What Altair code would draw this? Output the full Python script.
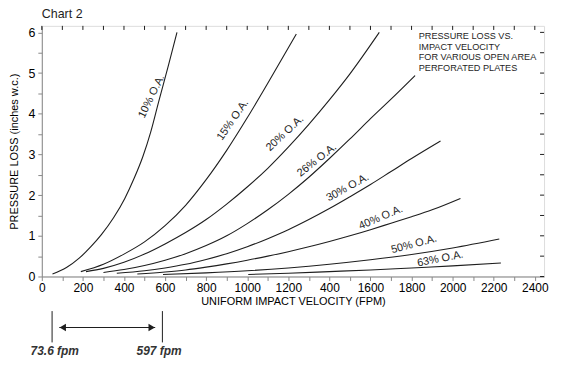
import json
import altair as alt
import pandas as pd

FONT = "Liberation Sans"
INK = "#1e1e1e"

# ---- curve data (velocity fpm, pressure loss in. w.c.) ----
series = ["10%", "15%", "20%", "26%", "30%", "40%", "50%", "63%"]
v10 = [52, 120, 182, 240, 290, 350, 404, 450, 492, 530, 569, 617, 658]
p10 = [0.06, 0.22, 0.45, 0.74, 1.03, 1.45, 1.92, 2.42, 2.95, 3.55, 4.3, 5.2, 6.0]
v15 = [190, 300, 400, 500, 600, 700, 800, 900, 1000, 1100, 1239]
p15 = [0.12, 0.3, 0.55, 0.85, 1.25, 1.75, 2.38, 3.1, 3.9, 4.75, 5.96]
v20 = [215, 300, 400, 500, 600, 700, 800, 900, 1000, 1100, 1200, 1300, 1400, 1500, 1643]
p20 = [0.12, 0.2, 0.35, 0.55, 0.8, 1.08, 1.4, 1.78, 2.2, 2.66, 3.18, 3.74, 4.34, 4.98, 6.0]
v26 = [300, 400, 500, 600, 700, 800, 900, 1000, 1100, 1200, 1300, 1400, 1500, 1600, 1700, 1817]
p26 = [0.1, 0.17, 0.27, 0.4, 0.56, 0.76, 1.0, 1.3, 1.64, 2.02, 2.44, 2.9, 3.38, 3.88, 4.36, 4.94]
v30 = [365, 500, 600, 700, 800, 900, 1000, 1100, 1200, 1300, 1400, 1500, 1600, 1700, 1800, 1941]
p30 = [0.08, 0.14, 0.21, 0.3, 0.42, 0.56, 0.73, 0.93, 1.15, 1.4, 1.67, 1.96, 2.26, 2.58, 2.9, 3.33]
v40 = [465, 600, 700, 800, 900, 1000, 1100, 1200, 1300, 1400, 1500, 1600, 1700, 1800, 1900, 2038]
p40 = [0.06, 0.11, 0.16, 0.23, 0.31, 0.4, 0.5, 0.61, 0.73, 0.86, 1.0, 1.15, 1.31, 1.47, 1.64, 1.92]
v50 = [590, 800, 1000, 1200, 1400, 1600, 1800, 2000, 2227]
p50 = [0.05, 0.09, 0.14, 0.21, 0.3, 0.41, 0.54, 0.7, 0.92]
v63 = [1005, 1200, 1400, 1600, 1800, 2000, 2235]
p63 = [0.05, 0.08, 0.12, 0.16, 0.21, 0.26, 0.33]

# ---- curve labels ----
label_text = ["10% O.A.", "15% O.A.", "20% O.A.", "26% O.A.", "30% O.A.", "40% O.A.", "50% O.A.", "63% O.A."]
label_v = [546, 940, 1192, 1347, 1495, 1655, 1815, 1942]
label_p = [4.40, 3.81, 3.47, 2.81, 2.13, 1.39, 0.73, 0.37]
label_angle = [296, 305, 317, 322, 331, 337, 345, 349]

# ---- axis tick labels ----
x_tick_labels = ["0", "200", "400", "600", "800", "1000", "1200", "400",
                 "1600", "1800", "2000", "2200", "2400"]
x_ticks = list(range(0, 2401, 100))
y_ticks = [i * 0.5 for i in range(13)]

# ---- scale extents ----
x_max = 2445
y_max = 6.16

# ---- texts ----
chart_title = "Chart 2"
title_pos = [0, 6.36]
note_lines = ["PRESSURE LOSS VS.", "IMPACT VELOCITY", "FOR VARIOUS OPEN AREA", "PERFORATED PLATES"]
note_pos = [1835, 6.0]

# ---- range annotation under the axis ----
marker_v = [50, 587]
marker_p = [-0.85, -1.62]
marker_labels = ["73.6 fpm", "597 fpm"]
marker_label_v = [63, 571]
marker_label_p = -1.83
arrow_v = [85, 552]
arrow_p = -1.254
arrow_head_v = [102, 535]

curves = []
for name, vs, ps in zip(series, [v10, v15, v20, v26, v30, v40, v50, v63],
                        [p10, p15, p20, p26, p30, p40, p50, p63]):
    for a, b in zip(vs, ps):
        curves.append({"series": name, "v": a, "p": b})
curves = pd.DataFrame(curves)

labels = pd.DataFrame({"text": label_text, "v": label_v, "p": label_p, "angle": label_angle})

xs = alt.Scale(domain=[0, x_max], nice=False, zero=False)
ys = alt.Scale(domain=[0, y_max], nice=False, zero=False)

label_expr = ("datum.value % 200 == 0 ? " + json.dumps(x_tick_labels) +
              "[round(datum.value / 200)] : ''")

x_axis = alt.Axis(values=x_ticks, labelExpr=label_expr, title="UNIFORM IMPACT VELOCITY (FPM)",
                  tickSize=4, labelPadding=2, labelOverlap=False, labelFlush=False,
                  grid=False, titleY=25, titleBaseline="middle", titleFontWeight="normal",
                  titleFontSize=11, labelFontSize=12)
y_axis = alt.Axis(values=y_ticks, labelExpr="datum.value % 1 == 0 ? format(datum.value, 'd') : ''",
                  title="PRESSURE LOSS (inches w.c.)", tickSize=4, labelPadding=3,
                  labelOverlap=False, grid=False, titleX=-27, titleY=126, titleAngle=270,
                  titleAlign="center", titleBaseline="middle", titleFontWeight="normal",
                  titleFontSize=11, labelFontSize=12.5)


def X(field="v"):
    return alt.X(f"{field}:Q", scale=xs, axis=x_axis)


def Y(field="p"):
    return alt.Y(f"{field}:Q", scale=ys, axis=y_axis)


lines = alt.Chart(curves).mark_line(interpolate="monotone", strokeWidth=1.1, color=INK).encode(
    x=X(), y=Y(), detail="series:N")

curve_labels = alt.Chart(labels).mark_text(font=FONT, fontSize=11, color=INK, dy=-2.5).encode(
    x=X(), y=Y(), text="text:N", angle=alt.Angle("angle:Q", scale=None))

note = alt.Chart(pd.DataFrame({"v": [note_pos[0]], "p": [note_pos[1]], "t": ["\n".join(note_lines)]})).mark_text(
    font=FONT, fontSize=9.2, align="left", baseline="top", lineBreak="\n", lineHeight=10.6, color=INK
).encode(x=X(), y=Y(), text="t:N")

title = alt.Chart(pd.DataFrame({"v": [title_pos[0]], "p": [title_pos[1]], "t": [chart_title]})).mark_text(
    font=FONT, fontSize=12.5, align="left", baseline="alphabetic", color=INK
).encode(x=X(), y=Y(), text="t:N")

top_ticks = alt.Chart(pd.DataFrame({"v": x_ticks, "p": [y_max] * len(x_ticks),
                                    "p2": [y_max - 0.1] * len(x_ticks)})).mark_rule(
    color=INK, strokeWidth=1).encode(x=X(), y=Y(), y2="p2:Q")

right_ticks = alt.Chart(pd.DataFrame({"v": [x_max] * len(y_ticks), "v2": [x_max - 19.5] * len(y_ticks),
                                      "p": y_ticks})).mark_rule(
    color=INK, strokeWidth=1).encode(x=X(), x2="v2:Q", y=Y())

markers = alt.Chart(pd.DataFrame({"v": marker_v, "p": [marker_p[0]] * 2, "p2": [marker_p[1]] * 2})).mark_rule(
    color=INK, strokeWidth=1).encode(x=X(), y=Y(), y2="p2:Q")

arrow = alt.Chart(pd.DataFrame({"v": [arrow_v[0]], "v2": [arrow_v[1]], "p": [arrow_p]})).mark_rule(
    color=INK, strokeWidth=1.2).encode(x=X(), x2="v2:Q", y=Y())

heads = alt.Chart(pd.DataFrame({"v": arrow_head_v, "p": [arrow_p] * 2,
                                "shape": ["triangle-left", "triangle-right"]})).mark_point(
    filled=True, size=55, color=INK, opacity=1).encode(x=X(), y=Y(), shape=alt.Shape("shape:N", scale=None))

marker_text = alt.Chart(pd.DataFrame({"v": marker_label_v, "p": [marker_label_p] * 2, "t": marker_labels})).mark_text(
    font=FONT, fontSize=12, fontStyle="italic", fontWeight="bold", color="#333333", baseline="middle"
).encode(x=X(), y=Y(), text="t:N")

chart = alt.layer(lines, curve_labels, note, title, top_ticks, right_ticks, markers, arrow, heads,
                  marker_text).properties(
    width=505, height=252,
    autosize=alt.AutoSizeParams(type="none"),
    padding={"left": 34, "top": 17, "right": 10, "bottom": 85},
).configure_view(stroke=INK, strokeWidth=1).configure_axis(
    labelFont=FONT, titleFont=FONT, labelColor=INK, titleColor=INK, domainColor=INK, tickColor=INK,
).configure(background="white")

chart.save("out.html", embed_options={"renderer": "svg", "actions": False})
